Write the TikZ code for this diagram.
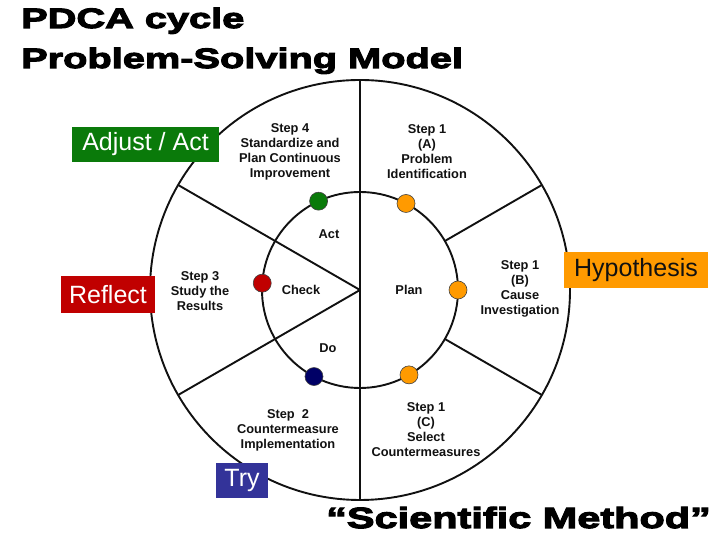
\documentclass[tikz,border=0pt]{standalone}
\usepackage{fontspec}
\setmainfont{Liberation Sans}
\newfontfamily\heavyfont{Liberation Sans}[FakeStretch=1.42,BoldFeatures={FakeBold=4}]
\usetikzlibrary{positioning}
\definecolor{pdInk}{HTML}{111111}
\definecolor{pdGreen}{HTML}{0A7A0A}
\definecolor{pdRed}{HTML}{C00000}
\definecolor{pdOrange}{HTML}{FF9A00}
\definecolor{pdNavy}{HTML}{000066}
\definecolor{pdBlue}{HTML}{333399}
\tikzset{
  % Rings and spokes
  ring/.style={circle,draw=pdInk,line width=1.9pt,inner sep=0pt,outer sep=0pt},
  spoke/.style={draw=pdInk,line width=1.9pt},
  % Dots on the inner ring
  ringdot/.style={circle,draw=pdInk!80,line width=0.6pt,
    minimum size=18pt,inner sep=0pt},
  % Step texts and phase names
  steptext/.style={align=center,inner sep=0pt,
    font=\bfseries\fontsize{12.8}{15}\selectfont,text=pdInk},
  % Coloured tags
  tagbox/.style={rectangle,inner sep=0pt,minimum height=35pt,
    font=\fontsize{25}{30}\selectfont,text=white},
  % Heavy titles
  titletext/.style={anchor=base west,inner sep=0pt,
    font=\heavyfont\bfseries\fontsize{28}{34}\selectfont},
}
\begin{document}
\begin{tikzpicture}[x=1pt,y=1pt]
  \useasboundingbox[fill=white] (0,0) rectangle (720,540);

  % Titles
  \node[titletext] (title1) at (21,512) {PDCA cycle};
  \node[titletext] (title2) at (21,472) {Problem-Solving Model};
  \node[titletext,font=\heavyfont\bfseries\fontsize{29.2}{34}\selectfont]
    (sci) at (326,12) {“Scientific Method”};

  % Rings
  \coordinate (c) at (360,250);
  \node[ring,minimum size=420pt] (outer) at (c) {};
  \node[ring,minimum size=196pt] (inner) at (c) {};

  % Spokes
  \draw[spoke] (outer.north) -- (outer.south);
  \draw[spoke] (c) -- (outer.150);
  \draw[spoke] (c) -- (outer.210);
  \draw[spoke] (inner.30) -- (outer.30);
  \draw[spoke] (inner.-30) -- (outer.-30);

  % Dots
  \node[ringdot,fill=pdGreen] (dact) at (inner.115) {};
  \node[ringdot,fill=pdOrange] (dpa) at (inner.62) {};
  \node[ringdot,fill=pdOrange] (dpb) at (inner.0) {};
  \node[ringdot,fill=pdOrange] (dpc) at (inner.-60) {};
  \node[ringdot,fill=pdRed] (dcheck) at (inner.176) {};
  \node[ringdot,fill=pdNavy] (ddo) at (inner.242) {};

  % Phase names
  \node[steptext] (act) at (329,306) {Act};
  \node[steptext] (check) at (301,250) {Check};
  \node[steptext] (plan) at (409,250) {Plan};
  \node[steptext] (do) at (328,192) {Do};

  % Steps
  \node[steptext] (s4) at (290,388)
    {Step 4\\Standardize and\\Plan Continuous\\Improvement};
  \node[steptext] (s1a) at (427,388)
    {Step 1\\(A)\\Problem\\Identification};
  \node[steptext] (s3) at (200,249)
    {Step 3\\Study the\\Results};
  \node[steptext] (s1b) at (520,251)
    {Step 1\\(B)\\Cause\\Investigation};
  \node[steptext] (s2) at (288,110)
    {Step\ \ 2\\Countermeasure\\Implementation};
  \node[steptext] (s1c) at (426,110)
    {Step 1\\(C)\\Select\\Countermeasures};

  % Tags
  \node[tagbox,fill=pdGreen,minimum width=147pt] (adjust) at (145.5,395.5)
    {Adjust / Act};
  \node[tagbox,fill=pdRed,minimum width=94pt,minimum height=37pt] (reflect)
    at (108,245.5) {Reflect};
  \node[tagbox,fill=pdOrange,minimum width=144pt,minimum height=36pt,
    text=pdInk] (hyp) at (636,270) {Hypothesis};
  \node[tagbox,fill=pdBlue,minimum width=52pt] (try) at (242,59.5) {Try};
\end{tikzpicture}
\end{document}
